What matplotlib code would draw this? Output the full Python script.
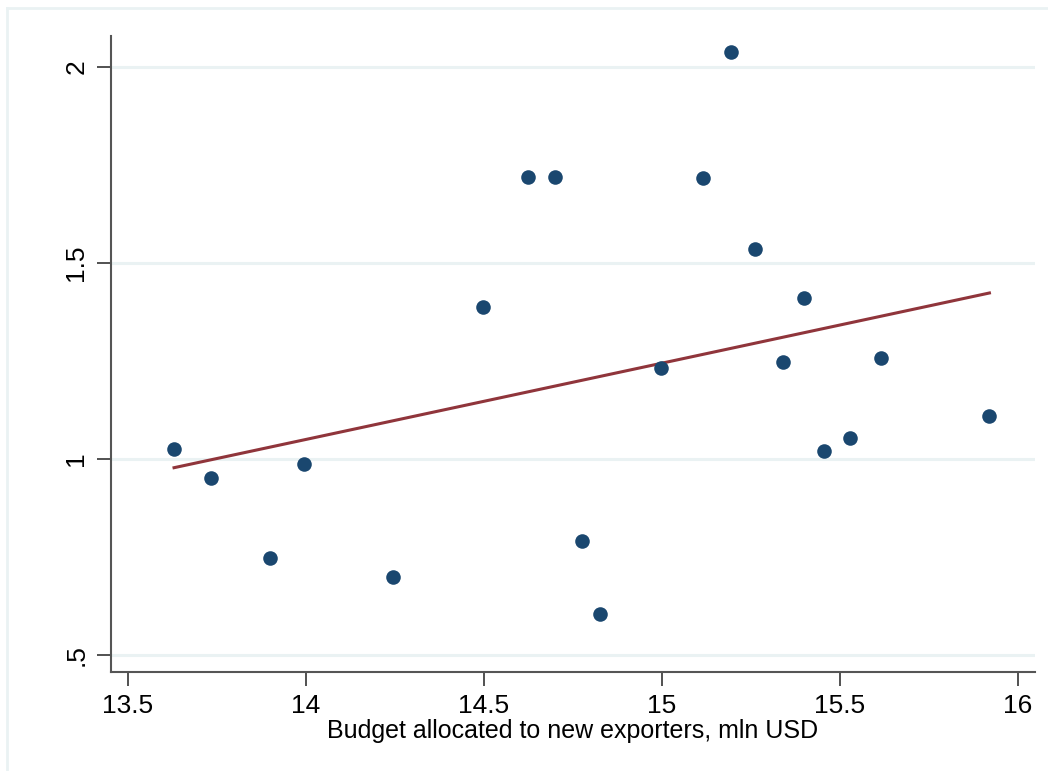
import numpy as np
import matplotlib
matplotlib.use("Agg")
import matplotlib.pyplot as plt
from matplotlib.lines import Line2D

# budget (mln USD) vs outcome
budget = [13.63, 13.734, 13.90, 13.995, 14.245, 14.498, 14.625, 14.701, 14.777,
          14.827, 14.998, 15.116, 15.195, 15.263, 15.339, 15.40, 15.456, 15.529,
          15.616, 15.92]
outcome = [1.026, 0.952, 0.747, 0.987, 0.699, 1.388, 1.719, 1.719, 0.791,
           0.605, 1.232, 1.717, 2.037, 1.536, 1.247, 1.411, 1.020, 1.054,
           1.258, 1.109]
x_ticks = [13.5, 14, 14.5, 15, 15.5, 16]
x_labels = ["13.5", "14", "14.5", "15", "15.5", "16"]
y_ticks = [0.5, 1, 1.5, 2]
y_labels = [".5", "1", "1.5", "2"]

plt.rcParams['font.family'] = ['Liberation Sans', 'DejaVu Sans']

fig = plt.figure(figsize=(10.48, 7.71), dpi=100)
ax = fig.add_axes([0.1056, 0.1288, 0.882, 0.8245])

# outer frame (only top and left visible in the reference)
grid_col = "#eaf2f3"
fig.add_artist(Line2D([7 / 1048, 1], [1 - 8 / 771, 1 - 8 / 771], color=grid_col, lw=2,
                      transform=fig.transFigure))
fig.add_artist(Line2D([7 / 1048, 7 / 1048], [0, 1 - 8 / 771], color=grid_col, lw=2,
                      transform=fig.transFigure))

# linear fit over the data range
bx = np.array(budget)
by = np.array(outcome)
slope, icpt = np.polyfit(bx, by, 1)
fx = np.array([bx.min(), bx.max()])

ax.scatter(bx, by, s=110, color="#1a476f", zorder=3, linewidths=0)
ax.plot(fx, slope * fx + icpt, color="#90353b", lw=2.2, zorder=2)

ax.set_xlim(13.452, 16.048)
ax.set_ylim(0.457, 2.079)
ax.set_xticks(x_ticks)
ax.set_xticklabels(x_labels)
ax.set_yticks(y_ticks)
ax.set_yticklabels(y_labels, rotation=90, va="center")

ax.grid(axis="y", color=grid_col, lw=2.2, zorder=0)
ax.set_axisbelow(True)
for s in ["top", "right"]:
    ax.spines[s].set_visible(False)
for s in ["left", "bottom"]:
    ax.spines[s].set_color("#555555")
    ax.spines[s].set_linewidth(1.5)

ax.tick_params(axis="both", length=10, width=1.2, color="#333333",
               labelsize=19, pad=6)
ax.set_xlabel("Budget allocated to new exporters, mln USD", fontsize=18,
              labelpad=1)

fig.savefig("out.png", dpi=100, facecolor="white")
